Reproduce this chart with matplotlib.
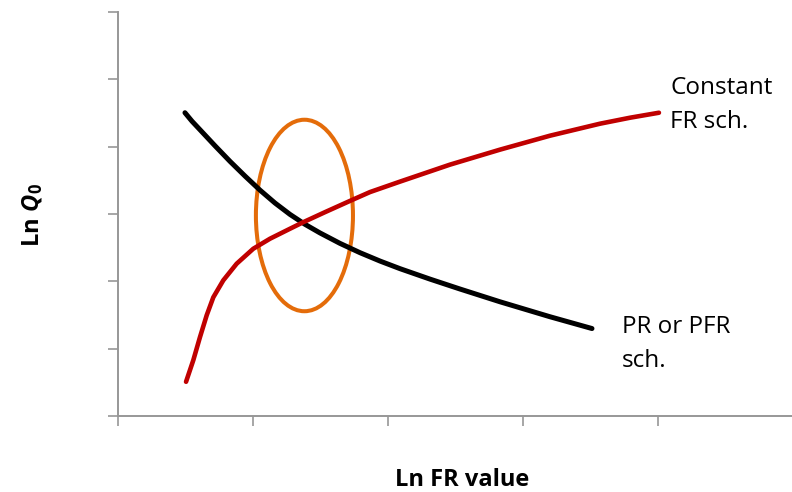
import matplotlib.pyplot as plt
from matplotlib.patches import Ellipse

plt.rcParams['font.family'] = ['Open Sans', 'DejaVu Sans']
plt.rcParams['mathtext.fontset'] = 'custom'
plt.rcParams['mathtext.rm'] = 'Open Sans'
plt.rcParams['mathtext.it'] = 'Open Sans:italic'
plt.rcParams['mathtext.bf'] = 'Open Sans:bold'
plt.rcParams['mathtext.bfit'] = 'Open Sans:bold:italic'

# PR or PFR schedule (falling curve)
pr_x = [0.496, 0.548, 0.607, 0.719, 0.830, 0.941, 1.052, 1.163, 1.274, 1.385,
        1.496, 1.644, 1.793, 1.941, 2.089, 2.311, 2.533, 2.830, 3.200, 3.511]
pr_y = [4.504, 4.378, 4.252, 4.012, 3.781, 3.563, 3.354, 3.163, 2.994, 2.847,
        2.719, 2.564, 2.425, 2.301, 2.188, 2.033, 1.886, 1.696, 1.474, 1.299]

# constant FR schedule (rising curve)
fr_x = [0.504, 0.558, 0.607, 0.657, 0.706, 0.780, 0.879, 1.002, 1.126, 1.274,
        1.373, 1.533, 1.719, 1.867, 2.089, 2.459, 2.830, 3.200, 3.570, 3.793,
        4.007]
fr_y = [0.508, 0.830, 1.170, 1.496, 1.763, 2.015, 2.262, 2.484, 2.633, 2.781,
        2.879, 3.027, 3.195, 3.326, 3.481, 3.733, 3.956, 4.163, 4.341, 4.430,
        4.504]

# circled crossing region: centre, width, height
ell_center = (1.381, 2.978)
ell_w, ell_h = 0.719, 2.844

gray = '#979797'

fig = plt.figure(figsize=(7.92, 4.92), dpi=100)
ax = fig.add_axes([118 / 792, 1 - 416 / 492, 675 / 792, 404 / 492])

ax.plot(pr_x, pr_y, color='black', lw=3.6, solid_capstyle='round',
        solid_joinstyle='round')
ax.plot(fr_x, fr_y, color='#C00000', lw=3.3, solid_capstyle='round',
        solid_joinstyle='round')
ax.add_patch(Ellipse(ell_center, ell_w, ell_h, fill=False,
                     edgecolor='#E46C0A', lw=2.9))

ax.set_xlim(0, 5)
ax.set_ylim(0, 6)
ax.set_xticks(range(0, 6))
ax.set_yticks(range(0, 7))
ax.set_xticklabels([])
ax.set_yticklabels([])
ax.tick_params(direction='out', length=7, width=1.2, color=gray)
for s in ['top', 'right']:
    ax.spines[s].set_visible(False)
for s in ['left', 'bottom']:
    ax.spines[s].set_color(gray)
    ax.spines[s].set_linewidth(1.4)

ax.text(4.089, 4.785, 'Constant', fontsize=17.5, va='baseline', clip_on=False)
ax.text(4.089, 4.281, 'FR sch.', fontsize=17.5, va='baseline', clip_on=False)
ax.text(3.733, 1.230, 'PR or PFR', fontsize=17.5, va='baseline', clip_on=False)
ax.text(3.733, 0.726, 'sch.', fontsize=17.5, va='baseline', clip_on=False)

fig.text(462 / 792, 1 - 486 / 492, 'Ln FR value', fontsize=17,
         fontweight='bold', ha='center', va='baseline')
fig.text(33 / 792, 1 - 215 / 492, r'$\mathbf{Ln}\ \mathbfit{Q}_{\mathbf{0}}$',
         fontsize=17, rotation=90, ha='center', va='center')

fig.savefig('out.png', dpi=100)
